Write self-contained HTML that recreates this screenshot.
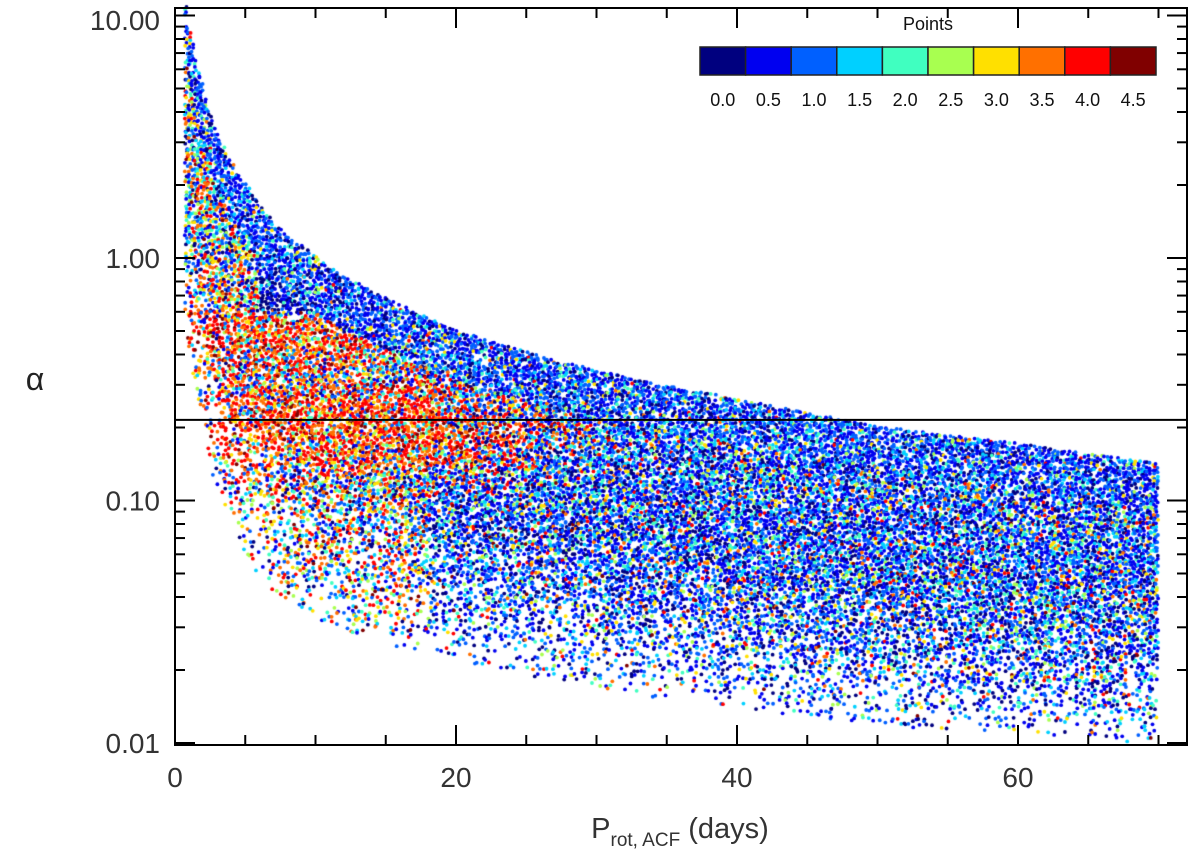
<!DOCTYPE html>
<html><head><meta charset="utf-8"><style>
html,body{margin:0;padding:0;background:#fff}
#wrap{position:relative;width:1200px;height:858px}
canvas,svg{position:absolute;left:0;top:0}
</style></head><body>
<div id="wrap">
<canvas id="cv" width="1200" height="858"></canvas>
<svg id="sv" width="1200" height="858"></svg>
</div>
<script>
// Data
const envP = [0.8,1,2,3,5,7,10,15,20,30,40,50,60,70];
const upperA = [11,9,5,3.2,2,1.4,1.0,0.68,0.5,0.34,0.26,0.2,0.17,0.14];
const lowerA = [0.6,0.4,0.2,0.11,0.06,0.042,0.032,0.026,0.022,0.017,0.014,0.012,0.011,0.01];
const xTicks = [0,20,40,60];
const yTicks = [0.01,0.10,1.00,10.00];
const yTickLabels = ["0.01","0.10","1.00","10.00"];
const cbLabels = ["0.0","0.5","1.0","1.5","2.0","2.5","3.0","3.5","4.0","4.5"];
const cbColors = ["#00007f","#0000f0","#0060ff","#00d0ff","#40ffc0","#a8ff50","#ffe000","#ff7000","#ff0000","#800000"];
const refLine = 0.215;

const X0=175,X1=1187,Y0=8,Y1=745;
const xs = p => X0 + p*(1018-175)/60;
const ys = a => 258 - Math.log10(a)*242.5;
const NS="http://www.w3.org/2000/svg";
const sv=document.getElementById('sv');
function mk(t,at,txt){const e=document.createElementNS(NS,t);for(const k in at)e.setAttribute(k,at[k]);if(txt!==undefined)e.textContent=txt;sv.appendChild(e);return e;}
function interp(p,arr){ if(p<=envP[0])return arr[0];
 for(let i=1;i<envP.length;i++){if(p<=envP[i]){const t=(Math.log(p)-Math.log(envP[i-1]))/(Math.log(envP[i])-Math.log(envP[i-1]));return Math.exp(Math.log(arr[i-1])*(1-t)+Math.log(arr[i])*t);}}
 return arr[arr.length-1];}
function hash(i,j,k){let h=(i*374761393+j*668265263+k*2147483647)|0;h=(h^(h>>>13))*1274126177|0;h=h^(h>>>16);return ((h>>>0)%100000)/100000;}
function pick(h,w){let s=0;for(let k=0;k<w.length;k++){s+=w[k];if(h<s)return k;}return 1;}
const mixTop=[0.15,0.35,0.28,0.1,0.05,0.02,0.03,0.01,0.01,0];
const mixGen=[0.17,0.3,0.2,0.12,0.06,0.04,0.04,0.03,0.03,0.01];
const mixWarm=[0.08,0.15,0.14,0.12,0.08,0.07,0.1,0.11,0.12,0.03];
const mixRed=[0,0,0.03,0.03,0.02,0.02,0.08,0.25,0.45,0.12];

const ctx=document.getElementById('cv').getContext('2d');
let i=0;
for(let p=0.8;p<=70;p+=0.22,i++){
  const up=Math.log10(interp(p,upperA)), lo=Math.log10(interp(p,lowerA));
  let j=0;
  for(let la=up;la>=lo;la-=0.012,j++){
    const f=(up-la)/(up-lo);
    let dens = f<0.5?0.85:(0.85-(f-0.5)*1.4);
    const h=hash(i,j,1); if(h>dens) continue;
    const a=Math.pow(10,la);
    const h2=hash(i,j,2), h3=hash(i,j,3), h5=hash(i,j,5);
    let c;
    const dr=(la-Math.log10(0.2))/0.2;
    let pr=Math.exp(-dr*dr)*(p<2?0.3:(p<18?1:Math.max(0,1-(p-18)/14)));
    const d2=(la-Math.log10(0.45))/0.15;
    pr=Math.max(pr,Math.exp(-d2*d2)*(p<12?0.9:Math.max(0,1-(p-12)/8)));
    if(f<0.15) c=pick(h2,mixTop);
    else if(p>=6&&p<=13&&a>0.6&&a<1.3) c=pick(h2,[0.5,0.3,0.12,0.05,0.03,0,0,0,0,0]);
    else if(h5<pr*0.85) c=pick(h2,mixRed);
    else if(p<18) c=pick(h2,mixWarm);
    else c=pick(h2,mixGen);
    ctx.fillStyle=cbColors[c];
    const x=xs(p+(h3-0.5)*0.2), y=ys(a)+(hash(i,j,4)-0.5)*3;
    ctx.beginPath();ctx.arc(x,y,1.9,0,6.283);ctx.fill();
  }
}

mk('rect',{x:X0,y:Y0,width:X1-X0,height:Y1-Y0,fill:'none',stroke:'#000','stroke-width':2,});
mk('line',{x1:X0,x2:X1,y1:ys(refLine),y2:ys(refLine),stroke:'#000','stroke-width':2,});
for(let v=0;v<=70;v+=5){const x=xs(v),L=(v%20===0)?20:10;
 mk('line',{x1:x,x2:x,y1:Y1,y2:Y1-L,stroke:'#000','stroke-width':2,});
 mk('line',{x1:x,x2:x,y1:Y0,y2:Y0+L,stroke:'#000','stroke-width':2,});}
xTicks.forEach(v=>mk('text',{x:xs(v),y:787,'text-anchor':'middle','font-size':28,'font-family':'Liberation Sans, sans-serif',fill:'#333',},String(v)));
for(let d=-2;d<=1;d++){for(let m=1;m<=9;m++){const a=m*Math.pow(10,d);const y=ys(a);if(y<Y0||y>Y1)continue;const L=m===1?20:10;
 mk('line',{x1:X0,x2:X0+L,y1:y,y2:y,stroke:'#000','stroke-width':2,});
 mk('line',{x1:X1,x2:X1-L,y1:y,y2:y,stroke:'#000','stroke-width':2,});}}
yTicks.forEach((v,k)=>mk('text',{x:160,y:Math.max(ys(v)+10,30),'text-anchor':'end','font-size':28,'font-family':'Liberation Sans, sans-serif',fill:'#333',},yTickLabels[k]));
mk('text',{x:35,y:390,'text-anchor':'middle','font-size':32,'font-family':'Liberation Sans, sans-serif',fill:'#222',},'α');
const xt=mk('text',{x:680,y:838,'text-anchor':'middle','font-size':29,'font-family':'Liberation Sans, sans-serif',fill:'#333',});
xt.innerHTML='P<tspan font-size="19" dy="8">rot, ACF</tspan><tspan dy="-8"> (days)</tspan>';
mk('text',{x:928,y:30,'text-anchor':'middle','font-size':18,'font-family':'Liberation Sans, sans-serif',fill:'#111',},'Points');
const cw=(1156-700)/cbColors.length;
cbColors.forEach((c,k)=>{
 mk('rect',{x:700+k*cw,y:47,width:cw,height:28,fill:c,stroke:'#222','stroke-width':1.5,});
 mk('text',{x:700+k*cw+cw/2,y:106,'text-anchor':'middle','font-size':18,'font-family':'Liberation Sans, sans-serif',fill:'#111',},cbLabels[k]);
});
</script>
</body></html>
